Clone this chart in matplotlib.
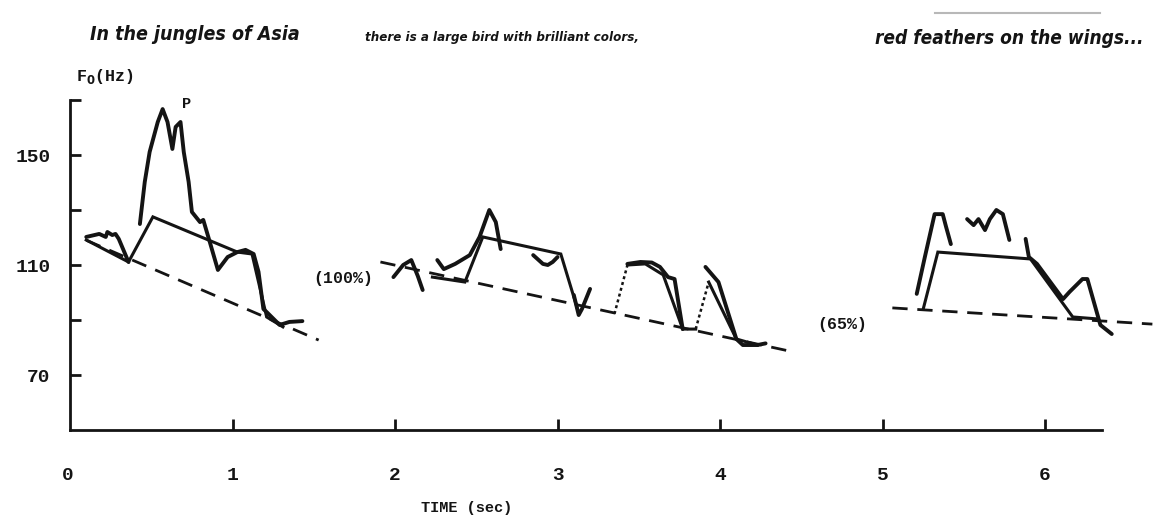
import matplotlib.pyplot as plt

# eixos: tempo (s) e F0 (Hz)
y_ticks = [70, 90, 110, 130, 150, 170]
y_labels = ['70', '', '110', '', '150', '']
x_ticks = [1, 2, 3, 4, 5, 6]

# frase 1 - "In the jungles of Asia"
base1_t = [0.10, 1.53]
base1_f = [119.0, 82.7]
chapeu1_t = [0.10, 0.36, 0.51, 1.03, 1.12, 1.21, 1.31]
chapeu1_f = [119.1, 111.1, 127.5, 114.7, 114.0, 91.1, 87.5]
f0_1a_t = [0.10, 0.18, 0.22, 0.23, 0.26, 0.28, 0.30, 0.36]
f0_1a_f = [120.2, 121.3, 120.2, 122.0, 120.9, 121.3, 119.5, 111.1]
f0_1b_t = [0.43, 0.46, 0.49, 0.54, 0.57, 0.60, 0.63, 0.65, 0.68, 0.70, 0.73, 0.75,
           0.80, 0.82, 0.86, 0.91, 0.97, 1.03, 1.08, 1.13, 1.16, 1.19, 1.21, 1.29,
           1.35, 1.43]
f0_1b_f = [124.9, 140.2, 151.1, 162.0, 166.7, 162.0, 152.2, 160.2, 162.0, 151.1, 140.2,
           129.3, 125.6, 126.4, 118.4, 108.2, 112.9, 114.7, 115.5, 114.0, 107.5, 94.0,
           92.9, 88.2, 89.3, 89.6]

# frase 2 - "there is a large bird with brilliant colors,"
base2_t = [1.91, 4.45]
base2_f = [111.1, 78.4]
chapeu2a_t = [2.23, 2.43, 2.54, 3.02, 3.12]
chapeu2a_f = [105.6, 103.8, 120.2, 114.0, 94.5]
chapeu2b_t = [3.43, 3.54, 3.65, 3.77, 3.85]
chapeu2b_f = [110.0, 110.4, 106.4, 86.7, 86.7]
chapeu2c_t = [3.93, 4.10, 4.23]
chapeu2c_f = [103.8, 83.1, 80.9]
pont2_t = [[3.35, 3.43], [3.85, 3.93]]
pont2_f = [[92.2, 110.0], [86.7, 103.8]]
f0_2a_t = [1.99, 2.05, 2.10, 2.14, 2.17]
f0_2a_f = [105.6, 110.0, 111.8, 106.0, 100.9]
f0_2b_t = [2.26, 2.30, 2.37, 2.46, 2.52, 2.58, 2.62, 2.65]
f0_2b_f = [111.8, 108.5, 110.4, 113.6, 120.2, 130.0, 125.6, 115.8]
f0_2c_t = [2.85, 2.91, 2.94, 2.97, 3.00]
f0_2c_f = [113.6, 110.4, 110.0, 111.1, 112.9]
f0_2d_t = [3.10, 3.13, 3.15, 3.20]
f0_2d_f = [99.1, 91.8, 94.0, 101.3]
f0_2e_t = [3.43, 3.51, 3.58, 3.63, 3.68, 3.72, 3.77]
f0_2e_f = [110.4, 111.1, 110.9, 109.3, 105.6, 104.9, 86.7]
f0_2f_t = [3.91, 3.99, 4.10, 4.14, 4.23, 4.28]
f0_2f_f = [109.3, 103.8, 83.1, 80.9, 80.9, 81.5]

# frase 3 - "red feathers on the wings..."
base3_t = [5.06, 6.66]
base3_f = [94.4, 88.5]
chapeu3_t = [5.25, 5.34, 5.91, 6.17, 6.32]
chapeu3_f = [94.0, 114.7, 112.2, 91.1, 90.4]
f0_3a_t = [5.21, 5.26, 5.32, 5.37, 5.39, 5.42]
f0_3a_f = [99.5, 112.9, 128.5, 128.5, 124.0, 117.6]
f0_3b_t = [5.52, 5.56, 5.59, 5.63, 5.66, 5.70, 5.74, 5.78]
f0_3b_f = [126.7, 124.5, 126.7, 122.7, 126.7, 130.0, 128.5, 119.1]
f0_3c_t = [5.88, 5.90, 5.95, 6.11, 6.15, 6.23, 6.26, 6.34, 6.41]
f0_3c_f = [119.5, 112.9, 110.4, 97.6, 100.2, 104.9, 104.9, 88.2, 84.9]

frases = ["In the jungles of Asia", "there is a large bird with brilliant colors,",
          "red feathers on the wings..."]

tinta = '#141414'
fonte_maq = 'Liberation Mono'

fig = plt.figure(figsize=(11.55, 5.25), dpi=100)
ax = fig.add_axes([70 / 1155, 95 / 525, 1032 / 1155, 330 / 525])
ax.set_xlim(0, 6.35)
ax.set_ylim(50, 170)

# linhas de base (declinação)
for bt, bf in [(base1_t, base1_f), (base2_t, base2_f), (base3_t, base3_f)]:
    ax.plot(bt, bf, color=tinta, lw=2.0, linestyle=(0, (5.5, 3.5)), clip_on=False)

# contornos estilizados
for ct, cf in [(chapeu1_t, chapeu1_f), (chapeu2a_t, chapeu2a_f), (chapeu2b_t, chapeu2b_f),
               (chapeu2c_t, chapeu2c_f), (chapeu3_t, chapeu3_f)]:
    ax.plot(ct, cf, color=tinta, lw=2.2, solid_joinstyle='miter', clip_on=False)
for pt, pf in zip(pont2_t, pont2_f):
    ax.plot(pt, pf, color=tinta, lw=1.8, linestyle=(0, (1.2, 1.2)))

# F0 medido
for ft, ff in [(f0_1a_t, f0_1a_f), (f0_1b_t, f0_1b_f), (f0_2a_t, f0_2a_f), (f0_2b_t, f0_2b_f),
               (f0_2c_t, f0_2c_f), (f0_2d_t, f0_2d_f), (f0_2e_t, f0_2e_f), (f0_2f_t, f0_2f_f),
               (f0_3a_t, f0_3a_f), (f0_3b_t, f0_3b_f), (f0_3c_t, f0_3c_f)]:
    ax.plot(ft, ff, color=tinta, lw=2.8, solid_capstyle='round', solid_joinstyle='round',
            clip_on=False)

ax.text(0.72, 168.5, 'P', fontsize=11, family=fonte_maq, weight='bold', color=tinta,
        ha='center', va='center')
ax.text(1.68, 105.0, '(100%)', fontsize=12, family=fonte_maq, weight='bold', color=tinta,
        ha='center', va='center')
ax.text(4.75, 88.5, '(65%)', fontsize=12, family=fonte_maq, weight='bold', color=tinta,
        ha='center', va='center')

# eixos
for lado in ['top', 'right']:
    ax.spines[lado].set_visible(False)
for lado in ['left', 'bottom']:
    ax.spines[lado].set_linewidth(2.0)
    ax.spines[lado].set_color(tinta)
ax.set_yticks(y_ticks)
ax.set_yticklabels(y_labels)
ax.set_xticks(x_ticks)
ax.set_xticklabels([str(v) for v in x_ticks])
ax.tick_params(axis='both', direction='in', length=8, width=2.0, color=tinta,
               labelcolor=tinta, labelsize=14)
ax.tick_params(axis='y', pad=14)
ax.tick_params(axis='x', pad=27)
for lab in ax.get_xticklabels() + ax.get_yticklabels():
    lab.set_family(fonte_maq)
    lab.set_weight('bold')

fig.text(68 / 1155, 1 - 475 / 525, '0', fontsize=14, family=fonte_maq, weight='bold',
         color=tinta, ha='center', va='center')
fig.text(76 / 1155, 1 - 76 / 525, 'F$_\\mathbf{0}$(Hz)', fontsize=12, family=fonte_maq,
         weight='bold', color=tinta, ha='left', va='center')
fig.text(467 / 1155, 1 - 508 / 525, 'TIME (sec)', fontsize=11, family=fonte_maq,
         weight='bold', color=tinta, ha='center', va='center')

# frases manuscritas no topo
fig.text(90 / 1155, 1 - 35 / 525, frases[0], fontsize=14, style='italic', weight='bold',
         stretch='condensed', color=tinta, ha='left', va='center')
fig.text(365 / 1155, 1 - 37 / 525, frases[1], fontsize=9.5, style='italic', weight='bold',
         stretch='condensed', color=tinta, ha='left', va='center')
fig.text(875 / 1155, 1 - 38 / 525, frases[2], fontsize=13.7, style='italic', weight='bold',
         stretch='condensed', color=tinta, ha='left', va='center')
fig.add_artist(plt.Line2D([935 / 1155, 1100 / 1155], [1 - 13 / 525, 1 - 13 / 525],
                          color='#b8b8b8', lw=1.5))

fig.savefig('out.png', dpi=100, facecolor='white')
